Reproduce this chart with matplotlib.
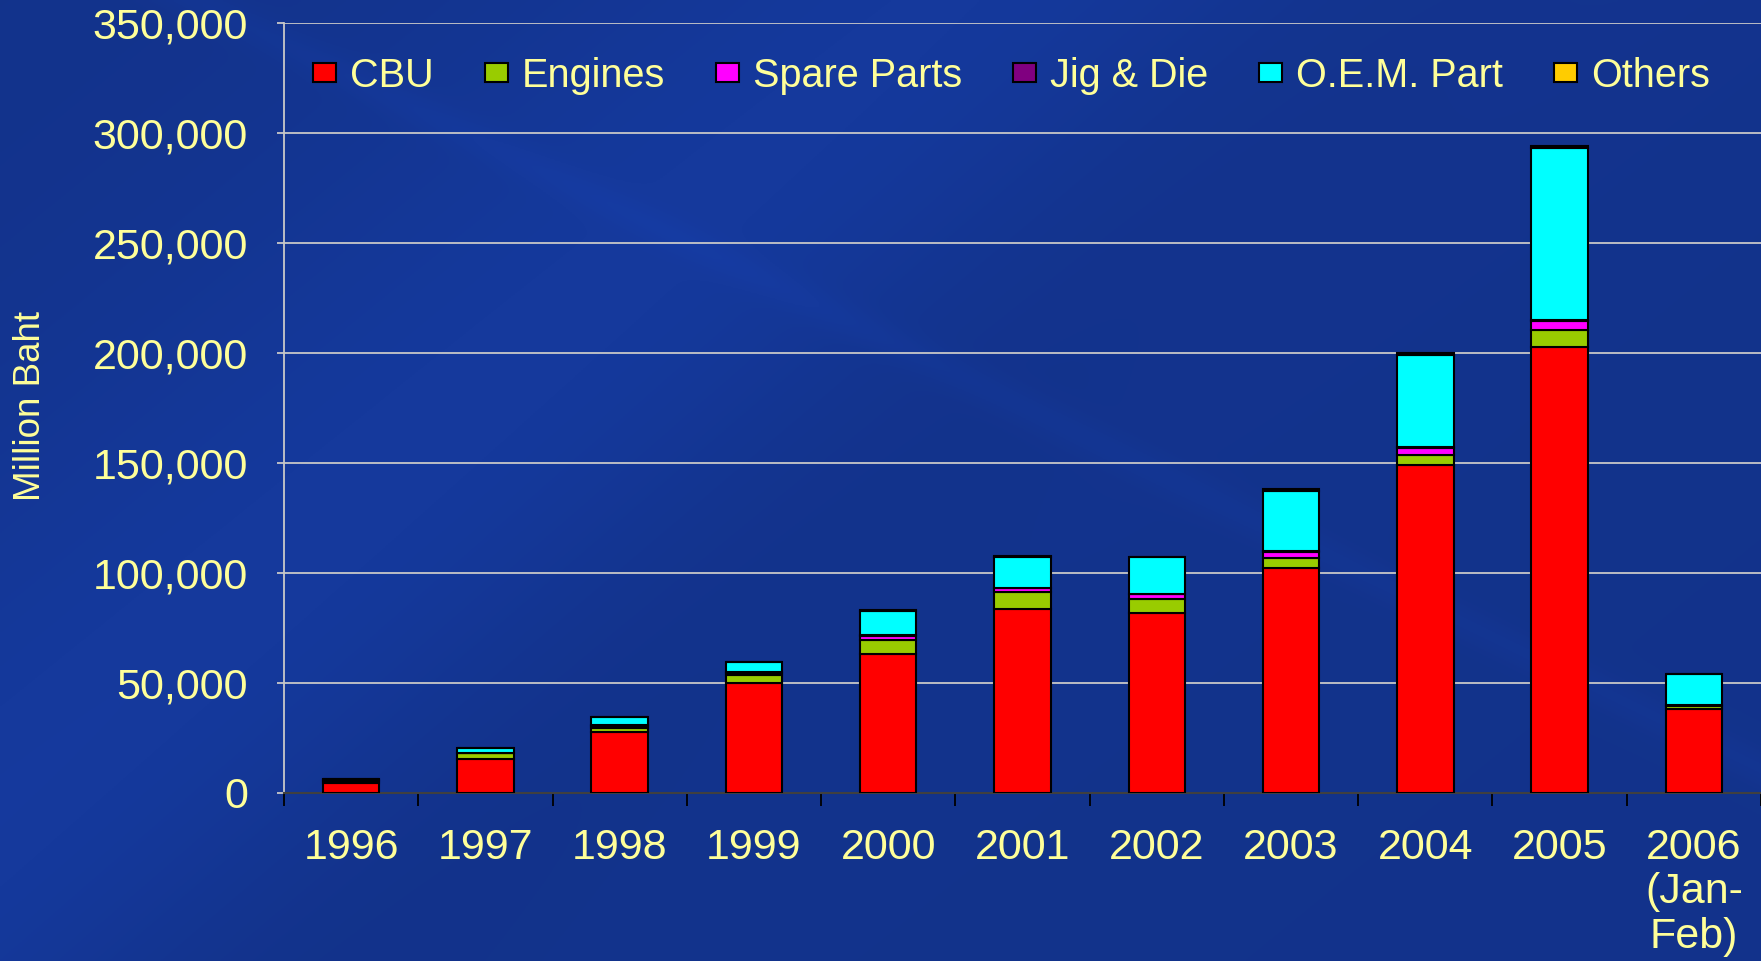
import numpy as np
import matplotlib.pyplot as plt

plt.rcParams['font.family'] = ['Liberation Sans', 'DejaVu Sans']

years = ['1996', '1997', '1998', '1999', '2000', '2001', '2002', '2003',
         '2004', '2005', '2006\n(Jan-\nFeb)']
cbu = [4400, 15500, 27600, 50000, 63200, 83500, 81700, 102300, 148900, 202800, 38000]
engines = [900, 2500, 2100, 3600, 6500, 7900, 6500, 4700, 4700, 7600, 1500]
spare_parts = [300, 300, 700, 1000, 1800, 1800, 2100, 2500, 3000, 4000, 300]
jig_die = [100, 100, 300, 400, 300, 200, 300, 500, 500, 700, 100]
oem_part = [700, 2000, 3800, 4400, 11000, 14100, 16500, 27200, 41800, 77900, 14000]
others = [100, 100, 200, 300, 400, 100, 200, 1000, 1000, 1200, 300]

series = [('CBU', cbu, '#FF0000'),
          ('Engines', engines, '#99CC00'),
          ('Spare Parts', spare_parts, '#FF00FF'),
          ('Jig & Die', jig_die, '#800080'),
          ('O.E.M. Part', oem_part, '#00FFFF'),
          ('Others', others, '#FFCC00')]

txt = '#FFFF99'

fig = plt.figure(figsize=(17.61, 9.61), dpi=100)

# blue slide-style background
bg = fig.add_axes([0, 0, 1, 1], zorder=-10)
yy, xx = np.mgrid[0:1:400j, 0:1:800j]
d = xx * 0.6 + yy * 0.4
shade = 0.55 + 0.25 * np.exp(-((d - 0.35) / 0.18) ** 2) - 0.12 * np.exp(-((xx - 0.75 + 0.6 * yy) / 0.15) ** 2)
shade += 0.08 * np.exp(-((yy - 0.9 * xx + 0.1) / 0.02) ** 2)
base = np.array([0.07, 0.19, 0.52])
img = np.clip(base[None, None, :] * (0.75 + 0.55 * shade[:, :, None]), 0, 1)
bg.imshow(img, aspect='auto', extent=[0, 1, 0, 1], origin='upper')
bg.axis('off')

ax = fig.add_axes([284 / 1761, 1 - 793 / 961, 1 - 284 / 1761, 770 / 961])
ax.set_facecolor('none')

x = np.arange(len(years))
bottom = np.zeros(len(years))
for name, vals, col in series:
    ax.bar(x, vals, width=0.42, bottom=bottom, color=col, edgecolor='black',
           linewidth=1.5, label=name, zorder=3)
    bottom += np.array(vals)

ax.set_xlim(-0.5, len(years) - 0.5)
ax.set_ylim(0, 350000)
ax.set_yticks(np.arange(0, 350001, 50000))
ax.yaxis.set_major_formatter(plt.FuncFormatter(lambda v, p: f'{int(v):,}'))
ax.grid(axis='y', color='#C8C8C8', linewidth=1.3, zorder=0)

ax.set_xticks(x)
ax.set_xticklabels(years)
for lbl in ax.get_xticklabels():
    lbl.set_linespacing(1.15)
ax.set_xticks(np.arange(-0.5, len(years)), minor=True)
ax.tick_params(axis='x', which='major', length=0, pad=25, labelsize=31, labelcolor=txt)
ax.tick_params(axis='x', which='minor', length=9, width=1.3, color='black', direction='out')
ax.tick_params(axis='y', length=5, width=1.3, color='#C8C8C8', pad=21, labelsize=31, labelcolor=txt)

for s in ['top', 'right']:
    ax.spines[s].set_visible(False)
ax.spines['left'].set_color('#C8C8C8')
ax.spines['left'].set_linewidth(1.3)
ax.spines['bottom'].set_color('#404040')
ax.spines['bottom'].set_linewidth(1.5)

fig.text(31 / 1761, 1 - 406 / 961, 'Million Baht', rotation=90, color=txt,
         fontsize=26.5, ha='center', va='center')

ax.legend(loc='center', bbox_to_anchor=(0.4926, 0.931), ncol=6, frameon=False,
          fontsize=28.5, labelcolor=txt, handlelength=0.58, handleheight=0.36,
          handletextpad=0.35, columnspacing=1.29)

fig.savefig('out.png', dpi=100)
